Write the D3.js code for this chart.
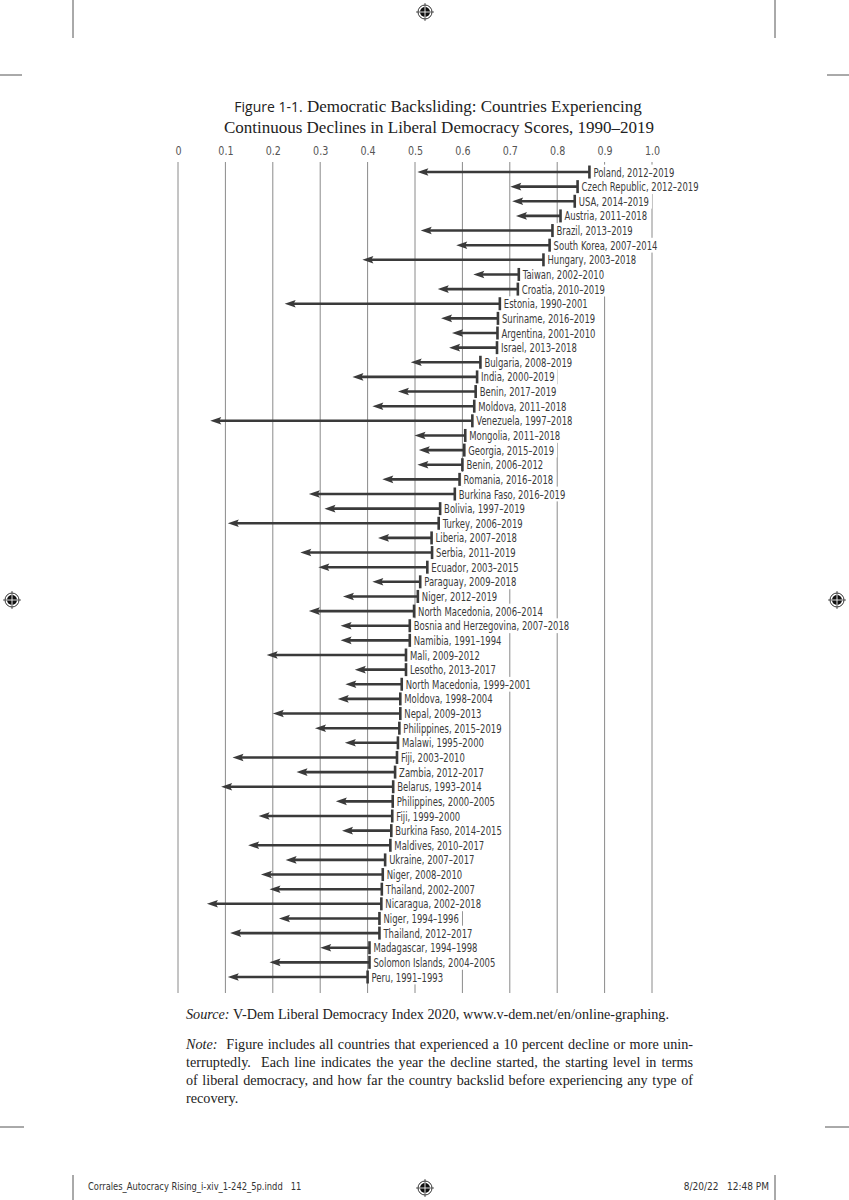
<!DOCTYPE html>
<html><head><meta charset="utf-8">
<script src="https://cdn.jsdelivr.net/npm/d3@7"></script>
<style>
body{margin:0;background:#fff;}
svg{display:block;}
</style></head><body>
<svg id="c" width="849" height="1200"></svg>
<script>
const labels = [
"Poland, 2012–2019","Czech Republic, 2012–2019","USA, 2014–2019","Austria, 2011–2018",
"Brazil, 2013–2019","South Korea, 2007–2014","Hungary, 2003–2018","Taiwan, 2002–2010",
"Croatia, 2010–2019","Estonia, 1990–2001","Suriname, 2016–2019","Argentina, 2001–2010",
"Israel, 2013–2018","Bulgaria, 2008–2019","India, 2000–2019","Benin, 2017–2019",
"Moldova, 2011–2018","Venezuela, 1997–2018","Mongolia, 2011–2018","Georgia, 2015–2019",
"Benin, 2006–2012","Romania, 2016–2018","Burkina Faso, 2016–2019","Bolivia, 1997–2019",
"Turkey, 2006–2019","Liberia, 2007–2018","Serbia, 2011–2019","Ecuador, 2003–2015",
"Paraguay, 2009–2018","Niger, 2012–2019","North Macedonia, 2006–2014","Bosnia and Herzegovina, 2007–2018",
"Namibia, 1991–1994","Mali, 2009–2012","Lesotho, 2013–2017","North Macedonia, 1999–2001",
"Moldova, 1998–2004","Nepal, 2009–2013","Philippines, 2015–2019","Malawi, 1995–2000",
"Fiji, 2003–2010","Zambia, 2012–2017","Belarus, 1993–2014","Philippines, 2000–2005",
"Fiji, 1999–2000","Burkina Faso, 2014–2015","Maldives, 2010–2017","Ukraine, 2007–2017",
"Niger, 2008–2010","Thailand, 2002–2007","Nicaragua, 2002–2018","Niger, 1994–1996",
"Thailand, 2012–2017","Madagascar, 1994–1998","Solomon Islands, 2004–2005","Peru, 1991–1993"
];
const startValues = [
0.868,0.843,0.837,0.807,0.790,0.784,0.771,0.719,0.717,0.679,0.675,0.674,0.673,0.638,0.631,0.628,
0.625,0.621,0.606,0.604,0.600,0.594,0.584,0.553,0.550,0.535,0.536,0.526,0.511,0.506,0.498,0.489,
0.489,0.481,0.481,0.472,0.469,0.469,0.467,0.464,0.462,0.458,0.454,0.453,0.452,0.450,0.448,0.437,
0.432,0.430,0.429,0.425,0.425,0.404,0.404,0.400
];
const endValues = [
0.505,0.701,0.705,0.713,0.512,0.587,0.389,0.623,0.548,0.225,0.555,0.578,0.572,0.491,0.368,0.464,
0.410,0.068,0.499,0.508,0.505,0.431,0.276,0.309,0.105,0.422,0.258,0.296,0.410,0.348,0.276,0.343,
0.343,0.187,0.373,0.353,0.337,0.200,0.289,0.352,0.115,0.250,0.091,0.333,0.170,0.346,0.148,0.227,
0.175,0.193,0.061,0.213,0.110,0.300,0.193,0.105
];
const tickValues = [0,0.1,0.2,0.3,0.4,0.5,0.6,0.7,0.8,0.9,1.0];
const tickLabels = ["0","0.1","0.2","0.3","0.4","0.5","0.6","0.7","0.8","0.9","1.0"];

const svg = d3.select("#c");
const narrow = "'DejaVu Sans Condensed','DejaVu Sans',sans-serif";
const serif = "'Liberation Serif','DejaVu Serif',serif";

const x = d3.scaleLinear().domain([0,1]).range([178,652]);
const y = d3.scalePoint().domain(d3.range(labels.length)).range([172,977]);

function cText(parent, x0, yb, str, size, k, fill, anchor){
  const t = parent.append("text").attr("transform",`translate(${x0},${yb}) scale(${k},1)`)
    .attr("font-family",narrow).attr("font-size",size).attr("fill",fill)
    .attr("xml:space","preserve").text(str);
  if(anchor) t.attr("text-anchor",anchor);
  return t;
}

// page marks
const marks = svg.append("g").attr("stroke","#555").attr("stroke-width",1);
[[73,0,73,38],[775,0,775,38],[0,75,22,75],[827,75,849,75],
 [73,1175,73,1200],[775,1175,775,1200],[0,1127,24,1127],[825,1127,849,1127]]
 .forEach(l=>marks.append("line").attr("x1",l[0]).attr("y1",l[1]).attr("x2",l[2]).attr("y2",l[3]));
function reg(cx,cy){
  const g = svg.append("g").attr("transform",`translate(${cx},${cy})`);
  g.append("circle").attr("r",7).attr("fill","none").attr("stroke","#333").attr("stroke-width",1);
  g.append("circle").attr("r",5).attr("fill","#111");
  g.append("line").attr("x1",-9).attr("x2",9).attr("stroke","#333").attr("stroke-width",0.8);
  g.append("line").attr("y1",-9).attr("y2",9).attr("stroke","#333").attr("stroke-width",0.8);
  g.append("line").attr("x1",-5).attr("x2",5).attr("stroke","#fff").attr("stroke-width",0.8);
  g.append("line").attr("y1",-5).attr("y2",5).attr("stroke","#fff").attr("stroke-width",0.8);
}
reg(425,12); reg(12,600); reg(837,600); reg(425,1188);
cText(svg, 88, 1190, "Corrales_Autocracy Rising_i-xiv_1-242_5p.indd   11", 10, 0.93, "#333");
cText(svg, 769, 1190, "8/20/22   12:48 PM", 10, 1, "#333", "end");

// title
const t1 = svg.append("text").attr("x",438).attr("y",112).attr("text-anchor","middle").attr("fill","#222");
t1.append("tspan").attr("font-family","'Open Sans','Noto Sans',sans-serif").attr("font-size",14).attr("font-weight",500).text("Figure 1-1.");
t1.append("tspan").attr("font-family",serif).attr("font-size",17).text(" Democratic Backsliding: Countries Experiencing");
svg.append("text").attr("x",439).attr("y",133).attr("text-anchor","middle").attr("fill","#222")
  .attr("font-family",serif).attr("font-size",17).text("Continuous Declines in Liberal Democracy Scores, 1990–2019");

// axis (labels only, on top)
const axis = d3.axisTop(x).tickValues(tickValues).tickSize(0).tickPadding(0)
  .tickFormat((d,i)=>tickLabels[i]);
const ax = svg.append("g").attr("transform","translate(0,155)").call(axis);
ax.select(".domain").remove();
ax.selectAll(".tick text").attr("font-family",narrow).attr("font-size",12.5).attr("fill","#555")
  .attr("transform","scale(0.85,1)");

// grid
svg.append("g").selectAll("line").data(tickValues).join("line")
  .attr("x1",d=>x(d)).attr("x2",d=>x(d)).attr("y1",162).attr("y2",993)
  .attr("stroke","#8a8a8a").attr("stroke-width",1);

// label backgrounds, arrows, labels
const rows = labels.map((l,i)=>({l,i,s:startValues[i],e:endValues[i]}));
const bg = svg.append("g");
const arrows = svg.append("g");
const lg = svg.append("g");
const labelSize = 12.8;
const probe = lg.append("text").attr("font-family",narrow).attr("font-size",labelSize).text(labels[0]);
const kLab = 81 / probe.node().getComputedTextLength();
probe.remove();
const txt = lg.selectAll("text").data(rows).join("text")
  .attr("transform",d=>`translate(${x(d.s)+4},${y(d.i)+4.5}) scale(${kLab},1)`)
  .attr("font-family",narrow).attr("font-size",labelSize).attr("fill","#3a3a3a")
  .text(d=>d.l);
txt.each(function(d){ d.w = this.getComputedTextLength()*kLab; });
bg.selectAll("rect").data(rows).join("rect")
  .attr("x",d=>x(d.s)+2).attr("y",d=>y(d.i)-7.4).attr("width",d=>d.w+5).attr("height",14.8)
  .attr("fill","#fff");

arrows.selectAll("line").data(rows).join("line")
  .attr("x1",d=>x(d.s)).attr("x2",d=>x(d.e)+8).attr("y1",d=>y(d.i)).attr("y2",d=>y(d.i))
  .attr("stroke","#3a3a3a").attr("stroke-width",2.6);
arrows.selectAll("path").data(rows).join("path")
  .attr("d",d=>{const xe=x(d.e), yy=y(d.i); return `M${xe},${yy} L${xe+11},${yy-3.8} L${xe+9},${yy} L${xe+11},${yy+3.8} Z`;})
  .attr("fill","#3a3a3a");
arrows.selectAll("rect").data(rows).join("rect")
  .attr("x",d=>x(d.s)-1.3).attr("y",d=>y(d.i)-6.5).attr("width",2.6).attr("height",13)
  .attr("fill","#3a3a3a");

// footnotes
const fx0 = 186, fx1 = 693;
function justified(parts, yb, target){
  const t = svg.append("text").attr("x",fx0).attr("y",yb).attr("font-family",serif).attr("font-size",14.2)
    .attr("fill","#222").attr("xml:space","preserve");
  parts.forEach(p=>{ const s=t.append("tspan").text(p.t); if(p.i) s.attr("font-style","italic"); });
  if(target){
    const w = t.node().getComputedTextLength();
    const full = parts.map(p=>p.t).join("");
    const n = (full.match(/ /g)||[]).length;
    if(n>0) t.attr("word-spacing",(target-w)/n);
  }
}
justified([{t:"Source:",i:true},{t:" V-Dem Liberal Democracy Index 2020, www.v-dem.net/en/online-graphing."}],1019,669-186);
justified([{t:"Note:",i:true},{t:"  Figure includes all countries that experienced a 10 percent decline or more unin-"}],1049,fx1-fx0);
justified([{t:"terruptedly.  Each line indicates the year the decline started, the starting level in terms"}],1067,fx1-fx0);
justified([{t:"of liberal democracy, and how far the country backslid before experiencing any type of"}],1085,fx1-fx0);
justified([{t:"recovery."}],1103,null);
</script>
</body></html>
